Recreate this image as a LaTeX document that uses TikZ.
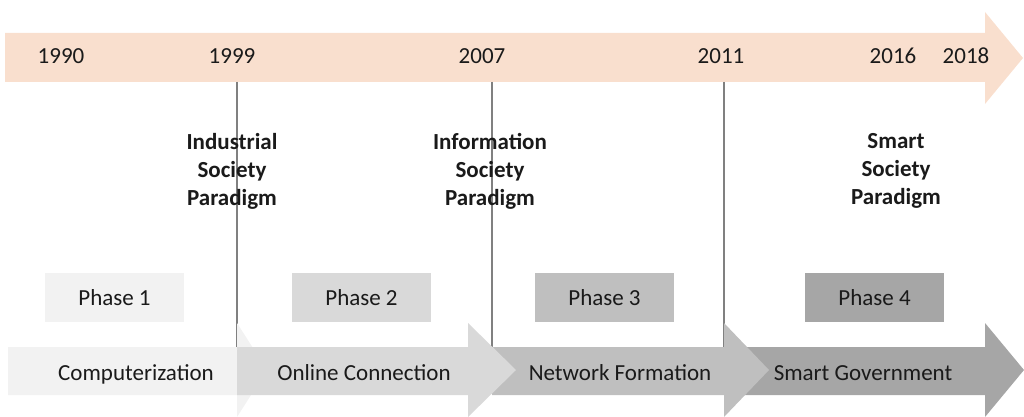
\documentclass[tikz,border=0pt]{standalone}
\usepackage{fontspec}
\setmainfont{Carlito}
\definecolor{peach}{HTML}{F9DFCE}
\definecolor{txt}{HTML}{1A1A1A}
\definecolor{linegray}{HTML}{808080}
\definecolor{g1}{HTML}{F2F2F2}
\definecolor{g2}{HTML}{D9D9D9}
\definecolor{g3}{HTML}{BFBFBF}
\definecolor{g4}{HTML}{A6A6A6}
\begin{document}
\begin{tikzpicture}[x=1pt,y=-1pt,
  every node/.style={font=\fontsize{23}{28}\selectfont, text=txt, inner sep=0pt},
  lbl/.style={anchor=base},
  para/.style={font=\fontsize{23}{28}\selectfont\bfseries, align=center, anchor=center},
  phasebox/.style={minimum width=139pt, minimum height=49pt, anchor=center},
  divider/.style={draw=linegray, line width=1.3pt}]
\useasboundingbox (0,0) rectangle (1024,417);
% timeline arrow
\fill[peach] (5,33) -- (985,33) -- (985,12) -- (1023,58) -- (985,104) -- (985,82) -- (5,82) -- cycle;
\node[lbl] (y1990) at (61,64) {1990};
\node[lbl] (y1999) at (232,64) {1999};
\node[lbl] (y2007) at (482,64) {2007};
\node[lbl] (y2011) at (721,64) {2011};
\node[lbl] (y2016) at (893,64) {2016};
\node[lbl] (y2018) at (966,64) {2018};
% dividers
\coordinate (d1t) at (237,82); \coordinate (d1b) at (237,347);
\coordinate (d2t) at (492,82); \coordinate (d2b) at (492,347);
\coordinate (d3t) at (724,82); \coordinate (d3b) at (724,347);
\draw[divider] (d1t) -- (d1b);
\draw[divider] (d2t) -- (d2b);
\draw[divider] (d3t) -- (d3b);
% paradigms
\node[para] (p1) at (232,171) {Industrial\\Society\\Paradigm};
\node[para] (p2) at (490,171) {Information\\Society\\Paradigm};
\node[para] (p3) at (896,171) {Smart\\Society\\Paradigm};
% phases
\node[phasebox, fill=g1] (ph1) at (114.5,297.5) {Phase 1};
\node[phasebox, fill=g2] (ph2) at (361.5,297.5) {Phase 2};
\node[phasebox, fill=g3] (ph3) at (604.5,297.5) {Phase 3};
\node[phasebox, fill=g4] (ph4) at (874.5,297.5) {Phase 4};
% stage arrows
\fill[g1] (8,347) -- (237,347) -- (237,323) -- (267,370) -- (237,417) -- (237,395) -- (8,395) -- cycle;
\fill[g4] (724,347) -- (985,347) -- (985,323) -- (1024,370) -- (985,417) -- (985,395) -- (724,395) -- cycle;
\fill[g3] (492,347) -- (724,347) -- (724,323) -- (769,370) -- (724,417) -- (724,395) -- (492,395) -- cycle;
\fill[g2] (237,347) -- (468,347) -- (468,323) -- (516,370) -- (468,417) -- (468,395) -- (237,395) -- cycle;
\node[lbl] (s1) at (136,380) {Computerization};
\node[lbl] (s2) at (364,380) {Online Connection};
\node[lbl] (s3) at (620,380) {Network Formation};
\node[lbl] (s4) at (863,380) {Smart Government};
\end{tikzpicture}
\end{document}
